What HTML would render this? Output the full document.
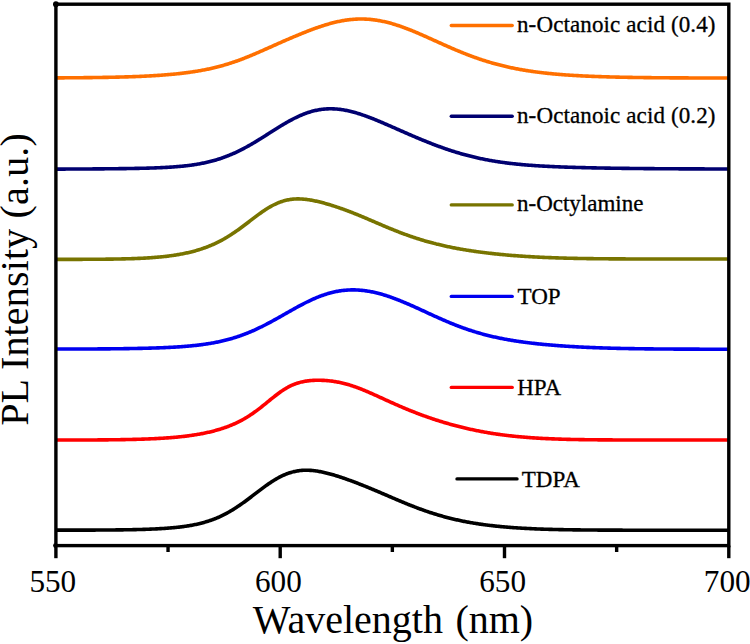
<!DOCTYPE html>
<html><head><meta charset="utf-8"><style>
html,body{margin:0;padding:0;background:#fff;width:750px;height:644px;overflow:hidden}
svg{display:block}
text{font-family:"Liberation Serif",serif;fill:#000}
.lg{font-size:23px;stroke:#000;stroke-width:0.3px}
.tk{font-size:31.2px}
.ax{font-size:40px}
</style></head><body>
<svg width="750" height="644" viewBox="0 0 750 644">
<path d="M56,77.87 L57,77.86 L58,77.86 L59,77.85 L60,77.85 L61,77.84 L62,77.84 L63,77.83 L64,77.83 L65,77.82 L66,77.81 L67,77.81 L68,77.80 L69,77.79 L70,77.79 L71,77.78 L72,77.77 L73,77.76 L74,77.76 L75,77.75 L76,77.74 L77,77.73 L78,77.72 L79,77.71 L80,77.71 L81,77.70 L82,77.69 L83,77.68 L84,77.67 L85,77.66 L86,77.65 L87,77.63 L88,77.62 L89,77.61 L90,77.60 L91,77.59 L92,77.58 L93,77.56 L94,77.55 L95,77.54 L96,77.52 L97,77.51 L98,77.49 L99,77.48 L100,77.46 L101,77.45 L102,77.43 L103,77.41 L104,77.40 L105,77.38 L106,77.36 L107,77.34 L108,77.33 L109,77.31 L110,77.29 L111,77.27 L112,77.24 L113,77.22 L114,77.20 L115,77.18 L116,77.16 L117,77.13 L118,77.11 L119,77.08 L120,77.06 L121,77.03 L122,77.00 L123,76.98 L124,76.95 L125,76.92 L126,76.89 L127,76.86 L128,76.83 L129,76.80 L130,76.76 L131,76.73 L132,76.69 L133,76.66 L134,76.62 L135,76.59 L136,76.55 L137,76.51 L138,76.47 L139,76.43 L140,76.38 L141,76.34 L142,76.30 L143,76.25 L144,76.20 L145,76.16 L146,76.11 L147,76.06 L148,76.01 L149,75.95 L150,75.90 L151,75.84 L152,75.79 L153,75.73 L154,75.67 L155,75.61 L156,75.55 L157,75.48 L158,75.42 L159,75.35 L160,75.28 L161,75.21 L162,75.14 L163,75.06 L164,74.99 L165,74.91 L166,74.83 L167,74.75 L168,74.66 L169,74.58 L170,74.49 L171,74.40 L172,74.31 L173,74.21 L174,74.12 L175,74.02 L176,73.92 L177,73.82 L178,73.71 L179,73.60 L180,73.49 L181,73.38 L182,73.26 L183,73.14 L184,73.02 L185,72.90 L186,72.77 L187,72.64 L188,72.51 L189,72.37 L190,72.23 L191,72.09 L192,71.94 L193,71.79 L194,71.64 L195,71.48 L196,71.32 L197,71.16 L198,70.99 L199,70.82 L200,70.65 L201,70.47 L202,70.29 L203,70.10 L204,69.91 L205,69.72 L206,69.52 L207,69.31 L208,69.11 L209,68.89 L210,68.68 L211,68.46 L212,68.23 L213,68.00 L214,67.76 L215,67.52 L216,67.28 L217,67.03 L218,66.77 L219,66.51 L220,66.25 L221,65.98 L222,65.70 L223,65.42 L224,65.13 L225,64.84 L226,64.54 L227,64.24 L228,63.93 L229,63.62 L230,63.30 L231,62.98 L232,62.65 L233,62.32 L234,61.98 L235,61.63 L236,61.28 L237,60.93 L238,60.57 L239,60.21 L240,59.84 L241,59.47 L242,59.09 L243,58.71 L244,58.32 L245,57.93 L246,57.53 L247,57.13 L248,56.73 L249,56.33 L250,55.92 L251,55.50 L252,55.09 L253,54.67 L254,54.24 L255,53.82 L256,53.39 L257,52.96 L258,52.53 L259,52.09 L260,51.66 L261,51.22 L262,50.78 L263,50.34 L264,49.90 L265,49.45 L266,49.01 L267,48.56 L268,48.12 L269,47.67 L270,47.23 L271,46.78 L272,46.33 L273,45.89 L274,45.44 L275,45.00 L276,44.55 L277,44.11 L278,43.66 L279,43.22 L280,42.78 L281,42.33 L282,41.89 L283,41.45 L284,41.02 L285,40.58 L286,40.14 L287,39.71 L288,39.28 L289,38.84 L290,38.41 L291,37.99 L292,37.56 L293,37.14 L294,36.71 L295,36.29 L296,35.87 L297,35.46 L298,35.04 L299,34.63 L300,34.22 L301,33.81 L302,33.41 L303,33.01 L304,32.61 L305,32.21 L306,31.82 L307,31.42 L308,31.04 L309,30.65 L310,30.27 L311,29.89 L312,29.52 L313,29.15 L314,28.78 L315,28.42 L316,28.06 L317,27.71 L318,27.36 L319,27.02 L320,26.68 L321,26.34 L322,26.01 L323,25.69 L324,25.37 L325,25.06 L326,24.76 L327,24.45 L328,24.16 L329,23.87 L330,23.59 L331,23.32 L332,23.05 L333,22.79 L334,22.54 L335,22.30 L336,22.06 L337,21.83 L338,21.61 L339,21.40 L340,21.19 L341,20.99 L342,20.81 L343,20.63 L344,20.46 L345,20.30 L346,20.14 L347,20.00 L348,19.87 L349,19.74 L350,19.63 L351,19.52 L352,19.43 L353,19.34 L354,19.27 L355,19.20 L356,19.14 L357,19.10 L358,19.06 L359,19.03 L360,19.02 L361,19.01 L362,19.02 L363,19.03 L364,19.05 L365,19.09 L366,19.13 L367,19.19 L368,19.25 L369,19.33 L370,19.41 L371,19.50 L372,19.61 L373,19.72 L374,19.85 L375,19.98 L376,20.12 L377,20.28 L378,20.44 L379,20.61 L380,20.79 L381,20.98 L382,21.18 L383,21.39 L384,21.60 L385,21.83 L386,22.06 L387,22.31 L388,22.56 L389,22.82 L390,23.09 L391,23.36 L392,23.64 L393,23.94 L394,24.23 L395,24.54 L396,24.85 L397,25.17 L398,25.50 L399,25.83 L400,26.17 L401,26.52 L402,26.87 L403,27.23 L404,27.59 L405,27.96 L406,28.34 L407,28.72 L408,29.10 L409,29.50 L410,29.89 L411,30.29 L412,30.69 L413,31.10 L414,31.51 L415,31.93 L416,32.35 L417,32.77 L418,33.20 L419,33.63 L420,34.06 L421,34.49 L422,34.93 L423,35.37 L424,35.81 L425,36.25 L426,36.70 L427,37.14 L428,37.59 L429,38.04 L430,38.49 L431,38.94 L432,39.39 L433,39.84 L434,40.30 L435,40.75 L436,41.20 L437,41.65 L438,42.11 L439,42.56 L440,43.01 L441,43.46 L442,43.91 L443,44.36 L444,44.80 L445,45.25 L446,45.69 L447,46.13 L448,46.57 L449,47.01 L450,47.45 L451,47.89 L452,48.32 L453,48.75 L454,49.18 L455,49.60 L456,50.03 L457,50.45 L458,50.86 L459,51.28 L460,51.69 L461,52.10 L462,52.50 L463,52.90 L464,53.30 L465,53.70 L466,54.09 L467,54.48 L468,54.86 L469,55.25 L470,55.62 L471,56.00 L472,56.37 L473,56.73 L474,57.10 L475,57.45 L476,57.81 L477,58.16 L478,58.51 L479,58.85 L480,59.19 L481,59.52 L482,59.85 L483,60.18 L484,60.50 L485,60.82 L486,61.13 L487,61.44 L488,61.75 L489,62.05 L490,62.35 L491,62.64 L492,62.93 L493,63.22 L494,63.50 L495,63.78 L496,64.05 L497,64.32 L498,64.58 L499,64.84 L500,65.10 L501,65.35 L502,65.60 L503,65.85 L504,66.09 L505,66.32 L506,66.56 L507,66.79 L508,67.01 L509,67.23 L510,67.45 L511,67.67 L512,67.88 L513,68.08 L514,68.29 L515,68.49 L516,68.68 L517,68.88 L518,69.07 L519,69.25 L520,69.43 L521,69.61 L522,69.79 L523,69.96 L524,70.13 L525,70.30 L526,70.46 L527,70.62 L528,70.78 L529,70.93 L530,71.09 L531,71.23 L532,71.38 L533,71.52 L534,71.66 L535,71.80 L536,71.93 L537,72.06 L538,72.19 L539,72.32 L540,72.44 L541,72.57 L542,72.69 L543,72.80 L544,72.92 L545,73.03 L546,73.14 L547,73.25 L548,73.35 L549,73.46 L550,73.56 L551,73.66 L552,73.75 L553,73.85 L554,73.94 L555,74.03 L556,74.12 L557,74.21 L558,74.29 L559,74.38 L560,74.46 L561,74.54 L562,74.62 L563,74.70 L564,74.77 L565,74.84 L566,74.92 L567,74.99 L568,75.06 L569,75.12 L570,75.19 L571,75.25 L572,75.32 L573,75.38 L574,75.44 L575,75.50 L576,75.56 L577,75.62 L578,75.67 L579,75.73 L580,75.78 L581,75.83 L582,75.88 L583,75.93 L584,75.98 L585,76.03 L586,76.08 L587,76.12 L588,76.17 L589,76.21 L590,76.25 L591,76.29 L592,76.34 L593,76.38 L594,76.42 L595,76.45 L596,76.49 L597,76.53 L598,76.56 L599,76.60 L600,76.63 L601,76.67 L602,76.70 L603,76.73 L604,76.76 L605,76.79 L606,76.82 L607,76.85 L608,76.88 L609,76.91 L610,76.94 L611,76.97 L612,76.99 L613,77.02 L614,77.04 L615,77.07 L616,77.09 L617,77.12 L618,77.14 L619,77.16 L620,77.18 L621,77.20 L622,77.23 L623,77.25 L624,77.27 L625,77.29 L626,77.31 L627,77.32 L628,77.34 L629,77.36 L630,77.38 L631,77.39 L632,77.41 L633,77.43 L634,77.44 L635,77.46 L636,77.47 L637,77.49 L638,77.50 L639,77.52 L640,77.53 L641,77.55 L642,77.56 L643,77.57 L644,77.59 L645,77.60 L646,77.61 L647,77.62 L648,77.63 L649,77.64 L650,77.66 L651,77.67 L652,77.68 L653,77.69 L654,77.70 L655,77.71 L656,77.72 L657,77.73 L658,77.73 L659,77.74 L660,77.75 L661,77.76 L662,77.77 L663,77.78 L664,77.78 L665,77.79 L666,77.80 L667,77.81 L668,77.81 L669,77.82 L670,77.83 L671,77.83 L672,77.84 L673,77.85 L674,77.85 L675,77.86 L676,77.86 L677,77.87 L678,77.88 L679,77.88 L680,77.89 L681,77.89 L682,77.90 L683,77.90 L684,77.91 L685,77.91 L686,77.91 L687,77.92 L688,77.92 L689,77.93 L690,77.93 L691,77.93 L692,77.94 L693,77.94 L694,77.95 L695,77.95 L696,77.95 L697,77.96 L698,77.96 L699,77.96 L700,77.97 L701,77.97 L702,77.97 L703,77.97 L704,77.98 L705,77.98 L706,77.98 L707,77.98 L708,77.99 L709,77.99 L710,77.99 L711,77.99 L712,78.00 L713,78.00 L714,78.00 L715,78.00 L716,78.00 L717,78.01 L718,78.01 L719,78.01 L720,78.01 L721,78.01 L722,78.01 L723,78.02 L724,78.02 L725,78.02 L726,78.02 L727,78.02 L728,78.02 L729,78.02" fill="none" stroke="#FF7000" stroke-width="3.6" stroke-linejoin="round"/>
<path d="M56,169.11 L57,169.11 L58,169.11 L59,169.10 L60,169.10 L61,169.09 L62,169.09 L63,169.09 L64,169.08 L65,169.08 L66,169.07 L67,169.07 L68,169.06 L69,169.06 L70,169.05 L71,169.05 L72,169.05 L73,169.04 L74,169.04 L75,169.03 L76,169.02 L77,169.02 L78,169.01 L79,169.01 L80,169.00 L81,169.00 L82,168.99 L83,168.99 L84,168.98 L85,168.97 L86,168.97 L87,168.96 L88,168.95 L89,168.95 L90,168.94 L91,168.93 L92,168.93 L93,168.92 L94,168.91 L95,168.90 L96,168.90 L97,168.89 L98,168.88 L99,168.87 L100,168.86 L101,168.86 L102,168.85 L103,168.84 L104,168.83 L105,168.82 L106,168.81 L107,168.80 L108,168.79 L109,168.78 L110,168.77 L111,168.76 L112,168.75 L113,168.74 L114,168.73 L115,168.72 L116,168.71 L117,168.70 L118,168.68 L119,168.67 L120,168.66 L121,168.65 L122,168.63 L123,168.62 L124,168.60 L125,168.59 L126,168.58 L127,168.56 L128,168.54 L129,168.53 L130,168.51 L131,168.50 L132,168.48 L133,168.46 L134,168.44 L135,168.42 L136,168.40 L137,168.38 L138,168.36 L139,168.34 L140,168.32 L141,168.30 L142,168.28 L143,168.25 L144,168.23 L145,168.20 L146,168.18 L147,168.15 L148,168.12 L149,168.09 L150,168.06 L151,168.03 L152,168.00 L153,167.96 L154,167.93 L155,167.89 L156,167.86 L157,167.82 L158,167.78 L159,167.74 L160,167.69 L161,167.65 L162,167.60 L163,167.56 L164,167.51 L165,167.45 L166,167.40 L167,167.34 L168,167.29 L169,167.23 L170,167.17 L171,167.10 L172,167.03 L173,166.96 L174,166.89 L175,166.82 L176,166.74 L177,166.66 L178,166.58 L179,166.49 L180,166.40 L181,166.31 L182,166.21 L183,166.11 L184,166.00 L185,165.90 L186,165.78 L187,165.67 L188,165.55 L189,165.42 L190,165.29 L191,165.16 L192,165.02 L193,164.88 L194,164.73 L195,164.57 L196,164.42 L197,164.25 L198,164.08 L199,163.91 L200,163.72 L201,163.54 L202,163.34 L203,163.14 L204,162.94 L205,162.72 L206,162.51 L207,162.28 L208,162.05 L209,161.81 L210,161.56 L211,161.30 L212,161.04 L213,160.77 L214,160.50 L215,160.21 L216,159.92 L217,159.62 L218,159.31 L219,158.99 L220,158.67 L221,158.33 L222,157.99 L223,157.64 L224,157.28 L225,156.92 L226,156.54 L227,156.16 L228,155.76 L229,155.36 L230,154.95 L231,154.53 L232,154.11 L233,153.67 L234,153.23 L235,152.77 L236,152.31 L237,151.84 L238,151.37 L239,150.88 L240,150.38 L241,149.88 L242,149.37 L243,148.85 L244,148.33 L245,147.79 L246,147.25 L247,146.71 L248,146.15 L249,145.59 L250,145.02 L251,144.45 L252,143.87 L253,143.28 L254,142.69 L255,142.09 L256,141.49 L257,140.88 L258,140.27 L259,139.66 L260,139.04 L261,138.41 L262,137.79 L263,137.16 L264,136.53 L265,135.90 L266,135.26 L267,134.63 L268,133.99 L269,133.35 L270,132.72 L271,132.08 L272,131.44 L273,130.81 L274,130.17 L275,129.54 L276,128.91 L277,128.29 L278,127.67 L279,127.05 L280,126.43 L281,125.82 L282,125.22 L283,124.62 L284,124.03 L285,123.44 L286,122.86 L287,122.29 L288,121.72 L289,121.17 L290,120.62 L291,120.08 L292,119.55 L293,119.02 L294,118.51 L295,118.01 L296,117.52 L297,117.04 L298,116.57 L299,116.12 L300,115.67 L301,115.24 L302,114.82 L303,114.41 L304,114.02 L305,113.64 L306,113.27 L307,112.91 L308,112.57 L309,112.25 L310,111.94 L311,111.64 L312,111.35 L313,111.09 L314,110.83 L315,110.59 L316,110.37 L317,110.16 L318,109.97 L319,109.79 L320,109.62 L321,109.47 L322,109.34 L323,109.22 L324,109.12 L325,109.03 L326,108.95 L327,108.89 L328,108.85 L329,108.82 L330,108.80 L331,108.80 L332,108.81 L333,108.84 L334,108.88 L335,108.93 L336,109.00 L337,109.08 L338,109.17 L339,109.28 L340,109.40 L341,109.53 L342,109.68 L343,109.83 L344,110.00 L345,110.18 L346,110.37 L347,110.57 L348,110.78 L349,111.01 L350,111.24 L351,111.48 L352,111.74 L353,112.00 L354,112.27 L355,112.55 L356,112.84 L357,113.13 L358,113.44 L359,113.75 L360,114.07 L361,114.40 L362,114.73 L363,115.08 L364,115.42 L365,115.78 L366,116.14 L367,116.50 L368,116.87 L369,117.25 L370,117.63 L371,118.02 L372,118.41 L373,118.80 L374,119.20 L375,119.60 L376,120.01 L377,120.42 L378,120.83 L379,121.25 L380,121.67 L381,122.09 L382,122.51 L383,122.94 L384,123.36 L385,123.79 L386,124.23 L387,124.66 L388,125.09 L389,125.53 L390,125.97 L391,126.40 L392,126.84 L393,127.28 L394,127.72 L395,128.16 L396,128.60 L397,129.04 L398,129.49 L399,129.93 L400,130.37 L401,130.81 L402,131.25 L403,131.69 L404,132.13 L405,132.56 L406,133.00 L407,133.44 L408,133.87 L409,134.31 L410,134.74 L411,135.17 L412,135.60 L413,136.03 L414,136.46 L415,136.89 L416,137.31 L417,137.73 L418,138.15 L419,138.57 L420,138.99 L421,139.40 L422,139.82 L423,140.23 L424,140.63 L425,141.04 L426,141.44 L427,141.85 L428,142.24 L429,142.64 L430,143.03 L431,143.42 L432,143.81 L433,144.20 L434,144.58 L435,144.96 L436,145.34 L437,145.71 L438,146.08 L439,146.45 L440,146.81 L441,147.17 L442,147.53 L443,147.88 L444,148.23 L445,148.58 L446,148.93 L447,149.27 L448,149.60 L449,149.94 L450,150.27 L451,150.60 L452,150.92 L453,151.24 L454,151.55 L455,151.87 L456,152.17 L457,152.48 L458,152.78 L459,153.08 L460,153.37 L461,153.66 L462,153.94 L463,154.23 L464,154.50 L465,154.78 L466,155.05 L467,155.31 L468,155.58 L469,155.84 L470,156.09 L471,156.34 L472,156.59 L473,156.83 L474,157.07 L475,157.31 L476,157.54 L477,157.77 L478,157.99 L479,158.21 L480,158.43 L481,158.64 L482,158.85 L483,159.06 L484,159.26 L485,159.46 L486,159.65 L487,159.84 L488,160.03 L489,160.22 L490,160.40 L491,160.57 L492,160.75 L493,160.92 L494,161.09 L495,161.25 L496,161.41 L497,161.57 L498,161.72 L499,161.87 L500,162.02 L501,162.17 L502,162.31 L503,162.45 L504,162.58 L505,162.72 L506,162.85 L507,162.98 L508,163.10 L509,163.22 L510,163.34 L511,163.46 L512,163.58 L513,163.69 L514,163.80 L515,163.90 L516,164.01 L517,164.11 L518,164.21 L519,164.31 L520,164.41 L521,164.50 L522,164.59 L523,164.68 L524,164.77 L525,164.85 L526,164.94 L527,165.02 L528,165.10 L529,165.18 L530,165.25 L531,165.33 L532,165.40 L533,165.47 L534,165.54 L535,165.61 L536,165.68 L537,165.74 L538,165.80 L539,165.87 L540,165.93 L541,165.99 L542,166.04 L543,166.10 L544,166.16 L545,166.21 L546,166.26 L547,166.32 L548,166.37 L549,166.42 L550,166.46 L551,166.51 L552,166.56 L553,166.60 L554,166.65 L555,166.69 L556,166.74 L557,166.78 L558,166.82 L559,166.86 L560,166.90 L561,166.94 L562,166.97 L563,167.01 L564,167.05 L565,167.08 L566,167.12 L567,167.15 L568,167.18 L569,167.22 L570,167.25 L571,167.28 L572,167.31 L573,167.34 L574,167.37 L575,167.40 L576,167.43 L577,167.46 L578,167.49 L579,167.51 L580,167.54 L581,167.57 L582,167.59 L583,167.62 L584,167.64 L585,167.67 L586,167.69 L587,167.71 L588,167.74 L589,167.76 L590,167.78 L591,167.80 L592,167.83 L593,167.85 L594,167.87 L595,167.89 L596,167.91 L597,167.93 L598,167.95 L599,167.97 L600,167.99 L601,168.00 L602,168.02 L603,168.04 L604,168.06 L605,168.08 L606,168.09 L607,168.11 L608,168.13 L609,168.14 L610,168.16 L611,168.18 L612,168.19 L613,168.21 L614,168.22 L615,168.24 L616,168.25 L617,168.27 L618,168.28 L619,168.29 L620,168.31 L621,168.32 L622,168.34 L623,168.35 L624,168.36 L625,168.37 L626,168.39 L627,168.40 L628,168.41 L629,168.42 L630,168.44 L631,168.45 L632,168.46 L633,168.47 L634,168.48 L635,168.49 L636,168.50 L637,168.51 L638,168.52 L639,168.53 L640,168.54 L641,168.55 L642,168.56 L643,168.57 L644,168.58 L645,168.59 L646,168.60 L647,168.61 L648,168.62 L649,168.63 L650,168.64 L651,168.64 L652,168.65 L653,168.66 L654,168.67 L655,168.68 L656,168.68 L657,168.69 L658,168.70 L659,168.71 L660,168.71 L661,168.72 L662,168.73 L663,168.73 L664,168.74 L665,168.75 L666,168.75 L667,168.76 L668,168.77 L669,168.77 L670,168.78 L671,168.78 L672,168.79 L673,168.79 L674,168.80 L675,168.81 L676,168.81 L677,168.82 L678,168.82 L679,168.83 L680,168.83 L681,168.84 L682,168.84 L683,168.85 L684,168.85 L685,168.85 L686,168.86 L687,168.86 L688,168.87 L689,168.87 L690,168.88 L691,168.88 L692,168.88 L693,168.89 L694,168.89 L695,168.89 L696,168.90 L697,168.90 L698,168.90 L699,168.91 L700,168.91 L701,168.91 L702,168.92 L703,168.92 L704,168.92 L705,168.93 L706,168.93 L707,168.93 L708,168.93 L709,168.94 L710,168.94 L711,168.94 L712,168.94 L713,168.95 L714,168.95 L715,168.95 L716,168.95 L717,168.96 L718,168.96 L719,168.96 L720,168.96 L721,168.96 L722,168.97 L723,168.97 L724,168.97 L725,168.97 L726,168.97 L727,168.98 L728,168.98 L729,168.98" fill="none" stroke="#000070" stroke-width="3.6" stroke-linejoin="round"/>
<path d="M56,259.39 L57,259.39 L58,259.39 L59,259.38 L60,259.38 L61,259.38 L62,259.38 L63,259.38 L64,259.38 L65,259.37 L66,259.37 L67,259.37 L68,259.37 L69,259.37 L70,259.36 L71,259.36 L72,259.36 L73,259.36 L74,259.35 L75,259.35 L76,259.35 L77,259.35 L78,259.34 L79,259.34 L80,259.34 L81,259.33 L82,259.33 L83,259.32 L84,259.32 L85,259.32 L86,259.31 L87,259.31 L88,259.30 L89,259.30 L90,259.29 L91,259.29 L92,259.28 L93,259.28 L94,259.27 L95,259.26 L96,259.26 L97,259.25 L98,259.24 L99,259.23 L100,259.23 L101,259.22 L102,259.21 L103,259.20 L104,259.19 L105,259.18 L106,259.17 L107,259.16 L108,259.15 L109,259.13 L110,259.12 L111,259.11 L112,259.09 L113,259.08 L114,259.06 L115,259.05 L116,259.03 L117,259.02 L118,259.00 L119,258.98 L120,258.96 L121,258.94 L122,258.92 L123,258.89 L124,258.87 L125,258.85 L126,258.82 L127,258.79 L128,258.77 L129,258.74 L130,258.71 L131,258.68 L132,258.64 L133,258.61 L134,258.58 L135,258.54 L136,258.50 L137,258.46 L138,258.42 L139,258.38 L140,258.33 L141,258.28 L142,258.24 L143,258.19 L144,258.13 L145,258.08 L146,258.02 L147,257.96 L148,257.90 L149,257.84 L150,257.77 L151,257.71 L152,257.64 L153,257.56 L154,257.49 L155,257.41 L156,257.33 L157,257.24 L158,257.16 L159,257.06 L160,256.97 L161,256.87 L162,256.77 L163,256.67 L164,256.56 L165,256.45 L166,256.34 L167,256.22 L168,256.10 L169,255.97 L170,255.84 L171,255.71 L172,255.57 L173,255.42 L174,255.28 L175,255.12 L176,254.97 L177,254.80 L178,254.64 L179,254.46 L180,254.29 L181,254.10 L182,253.91 L183,253.72 L184,253.52 L185,253.31 L186,253.10 L187,252.88 L188,252.66 L189,252.43 L190,252.19 L191,251.95 L192,251.69 L193,251.44 L194,251.17 L195,250.90 L196,250.62 L197,250.33 L198,250.03 L199,249.73 L200,249.41 L201,249.09 L202,248.76 L203,248.42 L204,248.07 L205,247.72 L206,247.35 L207,246.97 L208,246.59 L209,246.19 L210,245.78 L211,245.37 L212,244.94 L213,244.50 L214,244.05 L215,243.59 L216,243.12 L217,242.64 L218,242.15 L219,241.64 L220,241.13 L221,240.60 L222,240.06 L223,239.51 L224,238.95 L225,238.37 L226,237.79 L227,237.19 L228,236.58 L229,235.96 L230,235.33 L231,234.69 L232,234.04 L233,233.37 L234,232.70 L235,232.02 L236,231.33 L237,230.62 L238,229.91 L239,229.20 L240,228.47 L241,227.74 L242,227.00 L243,226.25 L244,225.50 L245,224.75 L246,223.99 L247,223.23 L248,222.46 L249,221.70 L250,220.93 L251,220.17 L252,219.40 L253,218.64 L254,217.88 L255,217.12 L256,216.37 L257,215.63 L258,214.89 L259,214.16 L260,213.44 L261,212.73 L262,212.03 L263,211.34 L264,210.66 L265,210.00 L266,209.35 L267,208.71 L268,208.09 L269,207.49 L270,206.91 L271,206.34 L272,205.79 L273,205.26 L274,204.75 L275,204.27 L276,203.80 L277,203.35 L278,202.92 L279,202.52 L280,202.14 L281,201.78 L282,201.44 L283,201.12 L284,200.83 L285,200.55 L286,200.30 L287,200.07 L288,199.87 L289,199.68 L290,199.52 L291,199.37 L292,199.25 L293,199.15 L294,199.06 L295,199.00 L296,198.95 L297,198.92 L298,198.91 L299,198.92 L300,198.94 L301,198.98 L302,199.04 L303,199.11 L304,199.19 L305,199.29 L306,199.40 L307,199.52 L308,199.66 L309,199.81 L310,199.97 L311,200.13 L312,200.31 L313,200.50 L314,200.70 L315,200.91 L316,201.12 L317,201.34 L318,201.57 L319,201.81 L320,202.06 L321,202.31 L322,202.57 L323,202.83 L324,203.10 L325,203.38 L326,203.66 L327,203.94 L328,204.24 L329,204.53 L330,204.84 L331,205.14 L332,205.45 L333,205.77 L334,206.09 L335,206.41 L336,206.74 L337,207.08 L338,207.41 L339,207.76 L340,208.10 L341,208.45 L342,208.80 L343,209.16 L344,209.52 L345,209.89 L346,210.26 L347,210.63 L348,211.01 L349,211.39 L350,211.77 L351,212.16 L352,212.55 L353,212.94 L354,213.34 L355,213.73 L356,214.14 L357,214.54 L358,214.95 L359,215.36 L360,215.77 L361,216.18 L362,216.60 L363,217.02 L364,217.44 L365,217.86 L366,218.28 L367,218.71 L368,219.13 L369,219.56 L370,219.99 L371,220.42 L372,220.84 L373,221.27 L374,221.70 L375,222.13 L376,222.56 L377,222.99 L378,223.42 L379,223.85 L380,224.27 L381,224.70 L382,225.13 L383,225.55 L384,225.97 L385,226.39 L386,226.81 L387,227.23 L388,227.65 L389,228.06 L390,228.47 L391,228.88 L392,229.29 L393,229.69 L394,230.09 L395,230.49 L396,230.89 L397,231.28 L398,231.68 L399,232.06 L400,232.45 L401,232.83 L402,233.21 L403,233.58 L404,233.95 L405,234.32 L406,234.68 L407,235.05 L408,235.40 L409,235.76 L410,236.11 L411,236.45 L412,236.79 L413,237.13 L414,237.47 L415,237.80 L416,238.13 L417,238.45 L418,238.77 L419,239.08 L420,239.40 L421,239.70 L422,240.01 L423,240.31 L424,240.61 L425,240.90 L426,241.19 L427,241.47 L428,241.76 L429,242.03 L430,242.31 L431,242.58 L432,242.85 L433,243.11 L434,243.37 L435,243.62 L436,243.88 L437,244.13 L438,244.37 L439,244.61 L440,244.85 L441,245.09 L442,245.32 L443,245.55 L444,245.78 L445,246.00 L446,246.22 L447,246.43 L448,246.65 L449,246.86 L450,247.07 L451,247.27 L452,247.47 L453,247.67 L454,247.86 L455,248.06 L456,248.25 L457,248.43 L458,248.62 L459,248.80 L460,248.98 L461,249.16 L462,249.33 L463,249.50 L464,249.67 L465,249.84 L466,250.00 L467,250.16 L468,250.32 L469,250.48 L470,250.64 L471,250.79 L472,250.94 L473,251.09 L474,251.23 L475,251.38 L476,251.52 L477,251.66 L478,251.80 L479,251.93 L480,252.07 L481,252.20 L482,252.33 L483,252.46 L484,252.58 L485,252.71 L486,252.83 L487,252.95 L488,253.07 L489,253.18 L490,253.30 L491,253.41 L492,253.53 L493,253.64 L494,253.74 L495,253.85 L496,253.96 L497,254.06 L498,254.16 L499,254.26 L500,254.36 L501,254.46 L502,254.55 L503,254.65 L504,254.74 L505,254.83 L506,254.92 L507,255.01 L508,255.09 L509,255.18 L510,255.26 L511,255.35 L512,255.43 L513,255.51 L514,255.59 L515,255.66 L516,255.74 L517,255.81 L518,255.89 L519,255.96 L520,256.03 L521,256.10 L522,256.17 L523,256.23 L524,256.30 L525,256.37 L526,256.43 L527,256.49 L528,256.55 L529,256.61 L530,256.67 L531,256.73 L532,256.79 L533,256.84 L534,256.90 L535,256.95 L536,257.00 L537,257.05 L538,257.10 L539,257.15 L540,257.20 L541,257.25 L542,257.30 L543,257.34 L544,257.39 L545,257.43 L546,257.47 L547,257.51 L548,257.55 L549,257.59 L550,257.63 L551,257.67 L552,257.71 L553,257.75 L554,257.78 L555,257.82 L556,257.85 L557,257.88 L558,257.92 L559,257.95 L560,257.98 L561,258.01 L562,258.04 L563,258.07 L564,258.10 L565,258.13 L566,258.15 L567,258.18 L568,258.21 L569,258.23 L570,258.25 L571,258.28 L572,258.30 L573,258.32 L574,258.35 L575,258.37 L576,258.39 L577,258.41 L578,258.43 L579,258.45 L580,258.47 L581,258.48 L582,258.50 L583,258.52 L584,258.54 L585,258.55 L586,258.57 L587,258.58 L588,258.60 L589,258.61 L590,258.63 L591,258.64 L592,258.66 L593,258.67 L594,258.68 L595,258.69 L596,258.70 L597,258.72 L598,258.73 L599,258.74 L600,258.75 L601,258.76 L602,258.77 L603,258.78 L604,258.79 L605,258.80 L606,258.80 L607,258.81 L608,258.82 L609,258.83 L610,258.84 L611,258.84 L612,258.85 L613,258.86 L614,258.86 L615,258.87 L616,258.88 L617,258.88 L618,258.89 L619,258.89 L620,258.90 L621,258.90 L622,258.91 L623,258.91 L624,258.92 L625,258.92 L626,258.93 L627,258.93 L628,258.94 L629,258.94 L630,258.94 L631,258.95 L632,258.95 L633,258.95 L634,258.96 L635,258.96 L636,258.96 L637,258.96 L638,258.97 L639,258.97 L640,258.97 L641,258.97 L642,258.98 L643,258.98 L644,258.98 L645,258.98 L646,258.98 L647,258.99 L648,258.99 L649,258.99 L650,258.99 L651,258.99 L652,258.99 L653,258.99 L654,258.99 L655,259.00 L656,259.00 L657,259.00 L658,259.00 L659,259.00 L660,259.00 L661,259.00 L662,259.00 L663,259.00 L664,259.00 L665,259.00 L666,259.00 L667,259.00 L668,259.00 L669,259.01 L670,259.01 L671,259.01 L672,259.01 L673,259.01 L674,259.01 L675,259.01 L676,259.01 L677,259.01 L678,259.01 L679,259.01 L680,259.01 L681,259.01 L682,259.01 L683,259.01 L684,259.01 L685,259.01 L686,259.01 L687,259.01 L688,259.01 L689,259.01 L690,259.01 L691,259.01 L692,259.01 L693,259.00 L694,259.00 L695,259.00 L696,259.00 L697,259.00 L698,259.00 L699,259.00 L700,259.00 L701,259.00 L702,259.00 L703,259.00 L704,259.00 L705,259.00 L706,259.00 L707,259.00 L708,259.00 L709,259.00 L710,259.00 L711,259.00 L712,259.00 L713,259.00 L714,259.00 L715,259.00 L716,259.00 L717,259.00 L718,258.99 L719,258.99 L720,258.99 L721,258.99 L722,258.99 L723,258.99 L724,258.99 L725,258.99 L726,258.99 L727,258.99 L728,258.99 L729,258.99" fill="none" stroke="#787400" stroke-width="3.6" stroke-linejoin="round"/>
<path d="M56,349.07 L57,349.07 L58,349.07 L59,349.07 L60,349.07 L61,349.07 L62,349.06 L63,349.06 L64,349.06 L65,349.06 L66,349.05 L67,349.05 L68,349.05 L69,349.05 L70,349.04 L71,349.04 L72,349.04 L73,349.04 L74,349.03 L75,349.03 L76,349.03 L77,349.02 L78,349.02 L79,349.02 L80,349.01 L81,349.01 L82,349.00 L83,349.00 L84,349.00 L85,348.99 L86,348.99 L87,348.98 L88,348.98 L89,348.97 L90,348.97 L91,348.96 L92,348.96 L93,348.95 L94,348.95 L95,348.94 L96,348.93 L97,348.93 L98,348.92 L99,348.91 L100,348.91 L101,348.90 L102,348.89 L103,348.89 L104,348.88 L105,348.87 L106,348.86 L107,348.85 L108,348.84 L109,348.84 L110,348.83 L111,348.82 L112,348.81 L113,348.80 L114,348.79 L115,348.78 L116,348.76 L117,348.75 L118,348.74 L119,348.73 L120,348.72 L121,348.70 L122,348.69 L123,348.68 L124,348.66 L125,348.65 L126,348.64 L127,348.62 L128,348.60 L129,348.59 L130,348.57 L131,348.56 L132,348.54 L133,348.52 L134,348.50 L135,348.48 L136,348.46 L137,348.44 L138,348.42 L139,348.40 L140,348.38 L141,348.36 L142,348.34 L143,348.31 L144,348.29 L145,348.26 L146,348.24 L147,348.21 L148,348.19 L149,348.16 L150,348.13 L151,348.10 L152,348.07 L153,348.04 L154,348.01 L155,347.98 L156,347.94 L157,347.91 L158,347.87 L159,347.83 L160,347.80 L161,347.76 L162,347.72 L163,347.68 L164,347.63 L165,347.59 L166,347.55 L167,347.50 L168,347.45 L169,347.40 L170,347.35 L171,347.30 L172,347.25 L173,347.19 L174,347.14 L175,347.08 L176,347.02 L177,346.96 L178,346.89 L179,346.83 L180,346.76 L181,346.69 L182,346.62 L183,346.54 L184,346.47 L185,346.39 L186,346.31 L187,346.22 L188,346.14 L189,346.05 L190,345.96 L191,345.86 L192,345.77 L193,345.66 L194,345.56 L195,345.46 L196,345.35 L197,345.23 L198,345.12 L199,345.00 L200,344.87 L201,344.75 L202,344.62 L203,344.48 L204,344.34 L205,344.20 L206,344.06 L207,343.90 L208,343.75 L209,343.59 L210,343.42 L211,343.26 L212,343.08 L213,342.90 L214,342.72 L215,342.53 L216,342.34 L217,342.14 L218,341.93 L219,341.72 L220,341.51 L221,341.28 L222,341.06 L223,340.82 L224,340.58 L225,340.34 L226,340.09 L227,339.83 L228,339.56 L229,339.29 L230,339.02 L231,338.73 L232,338.44 L233,338.14 L234,337.84 L235,337.53 L236,337.21 L237,336.89 L238,336.56 L239,336.22 L240,335.87 L241,335.52 L242,335.16 L243,334.79 L244,334.42 L245,334.04 L246,333.65 L247,333.25 L248,332.85 L249,332.44 L250,332.02 L251,331.60 L252,331.17 L253,330.73 L254,330.29 L255,329.84 L256,329.38 L257,328.92 L258,328.45 L259,327.97 L260,327.49 L261,327.00 L262,326.51 L263,326.01 L264,325.50 L265,324.99 L266,324.48 L267,323.96 L268,323.43 L269,322.90 L270,322.36 L271,321.83 L272,321.28 L273,320.74 L274,320.19 L275,319.63 L276,319.08 L277,318.52 L278,317.96 L279,317.39 L280,316.83 L281,316.26 L282,315.69 L283,315.12 L284,314.55 L285,313.98 L286,313.41 L287,312.84 L288,312.27 L289,311.71 L290,311.14 L291,310.57 L292,310.01 L293,309.45 L294,308.89 L295,308.33 L296,307.78 L297,307.23 L298,306.69 L299,306.14 L300,305.61 L301,305.08 L302,304.55 L303,304.03 L304,303.51 L305,303.00 L306,302.50 L307,302.00 L308,301.51 L309,301.03 L310,300.55 L311,300.09 L312,299.63 L313,299.18 L314,298.74 L315,298.30 L316,297.88 L317,297.46 L318,297.06 L319,296.66 L320,296.28 L321,295.90 L322,295.53 L323,295.18 L324,294.84 L325,294.50 L326,294.18 L327,293.87 L328,293.57 L329,293.28 L330,293.00 L331,292.73 L332,292.48 L333,292.24 L334,292.01 L335,291.79 L336,291.58 L337,291.38 L338,291.20 L339,291.03 L340,290.87 L341,290.72 L342,290.59 L343,290.46 L344,290.35 L345,290.25 L346,290.17 L347,290.09 L348,290.03 L349,289.98 L350,289.94 L351,289.91 L352,289.89 L353,289.89 L354,289.90 L355,289.91 L356,289.94 L357,289.99 L358,290.04 L359,290.10 L360,290.18 L361,290.26 L362,290.36 L363,290.47 L364,290.58 L365,290.71 L366,290.85 L367,291.00 L368,291.16 L369,291.33 L370,291.50 L371,291.69 L372,291.89 L373,292.10 L374,292.31 L375,292.54 L376,292.77 L377,293.01 L378,293.27 L379,293.53 L380,293.79 L381,294.07 L382,294.35 L383,294.65 L384,294.95 L385,295.25 L386,295.57 L387,295.89 L388,296.22 L389,296.56 L390,296.90 L391,297.25 L392,297.60 L393,297.96 L394,298.33 L395,298.70 L396,299.08 L397,299.47 L398,299.86 L399,300.25 L400,300.65 L401,301.06 L402,301.46 L403,301.88 L404,302.30 L405,302.72 L406,303.14 L407,303.57 L408,304.00 L409,304.44 L410,304.88 L411,305.32 L412,305.76 L413,306.21 L414,306.66 L415,307.11 L416,307.56 L417,308.01 L418,308.47 L419,308.92 L420,309.38 L421,309.84 L422,310.30 L423,310.76 L424,311.22 L425,311.68 L426,312.15 L427,312.61 L428,313.07 L429,313.53 L430,313.99 L431,314.44 L432,314.90 L433,315.36 L434,315.81 L435,316.27 L436,316.72 L437,317.17 L438,317.62 L439,318.06 L440,318.51 L441,318.95 L442,319.39 L443,319.82 L444,320.26 L445,320.69 L446,321.12 L447,321.54 L448,321.96 L449,322.38 L450,322.80 L451,323.21 L452,323.61 L453,324.02 L454,324.42 L455,324.81 L456,325.21 L457,325.60 L458,325.98 L459,326.36 L460,326.74 L461,327.11 L462,327.47 L463,327.84 L464,328.20 L465,328.55 L466,328.90 L467,329.25 L468,329.59 L469,329.92 L470,330.25 L471,330.58 L472,330.90 L473,331.22 L474,331.54 L475,331.85 L476,332.15 L477,332.45 L478,332.75 L479,333.04 L480,333.32 L481,333.61 L482,333.88 L483,334.16 L484,334.43 L485,334.69 L486,334.95 L487,335.21 L488,335.46 L489,335.71 L490,335.95 L491,336.19 L492,336.43 L493,336.66 L494,336.89 L495,337.11 L496,337.33 L497,337.55 L498,337.76 L499,337.97 L500,338.18 L501,338.38 L502,338.58 L503,338.78 L504,338.97 L505,339.16 L506,339.34 L507,339.52 L508,339.70 L509,339.88 L510,340.05 L511,340.22 L512,340.39 L513,340.55 L514,340.71 L515,340.87 L516,341.02 L517,341.18 L518,341.33 L519,341.47 L520,341.62 L521,341.76 L522,341.90 L523,342.04 L524,342.17 L525,342.30 L526,342.44 L527,342.56 L528,342.69 L529,342.81 L530,342.94 L531,343.05 L532,343.17 L533,343.29 L534,343.40 L535,343.51 L536,343.62 L537,343.73 L538,343.84 L539,343.94 L540,344.04 L541,344.15 L542,344.24 L543,344.34 L544,344.44 L545,344.53 L546,344.63 L547,344.72 L548,344.81 L549,344.89 L550,344.98 L551,345.07 L552,345.15 L553,345.23 L554,345.31 L555,345.39 L556,345.47 L557,345.55 L558,345.62 L559,345.70 L560,345.77 L561,345.84 L562,345.91 L563,345.98 L564,346.05 L565,346.12 L566,346.19 L567,346.25 L568,346.31 L569,346.38 L570,346.44 L571,346.50 L572,346.56 L573,346.62 L574,346.67 L575,346.73 L576,346.78 L577,346.84 L578,346.89 L579,346.94 L580,347.00 L581,347.05 L582,347.10 L583,347.14 L584,347.19 L585,347.24 L586,347.28 L587,347.33 L588,347.37 L589,347.42 L590,347.46 L591,347.50 L592,347.54 L593,347.58 L594,347.62 L595,347.66 L596,347.70 L597,347.74 L598,347.77 L599,347.81 L600,347.84 L601,347.88 L602,347.91 L603,347.94 L604,347.98 L605,348.01 L606,348.04 L607,348.07 L608,348.10 L609,348.13 L610,348.15 L611,348.18 L612,348.21 L613,348.24 L614,348.26 L615,348.29 L616,348.31 L617,348.34 L618,348.36 L619,348.38 L620,348.41 L621,348.43 L622,348.45 L623,348.47 L624,348.49 L625,348.51 L626,348.53 L627,348.55 L628,348.57 L629,348.59 L630,348.61 L631,348.62 L632,348.64 L633,348.66 L634,348.67 L635,348.69 L636,348.71 L637,348.72 L638,348.74 L639,348.75 L640,348.76 L641,348.78 L642,348.79 L643,348.80 L644,348.82 L645,348.83 L646,348.84 L647,348.85 L648,348.86 L649,348.88 L650,348.89 L651,348.90 L652,348.91 L653,348.92 L654,348.93 L655,348.94 L656,348.95 L657,348.95 L658,348.96 L659,348.97 L660,348.98 L661,348.99 L662,349.00 L663,349.00 L664,349.01 L665,349.02 L666,349.03 L667,349.03 L668,349.04 L669,349.05 L670,349.05 L671,349.06 L672,349.06 L673,349.07 L674,349.08 L675,349.08 L676,349.09 L677,349.09 L678,349.10 L679,349.10 L680,349.11 L681,349.11 L682,349.12 L683,349.12 L684,349.12 L685,349.13 L686,349.13 L687,349.14 L688,349.14 L689,349.14 L690,349.15 L691,349.15 L692,349.15 L693,349.16 L694,349.16 L695,349.16 L696,349.17 L697,349.17 L698,349.17 L699,349.17 L700,349.18 L701,349.18 L702,349.18 L703,349.18 L704,349.19 L705,349.19 L706,349.19 L707,349.19 L708,349.19 L709,349.20 L710,349.20 L711,349.20 L712,349.20 L713,349.20 L714,349.21 L715,349.21 L716,349.21 L717,349.21 L718,349.21 L719,349.21 L720,349.22 L721,349.22 L722,349.22 L723,349.22 L724,349.22 L725,349.22 L726,349.22 L727,349.22 L728,349.22 L729,349.23" fill="none" stroke="#0000F0" stroke-width="3.6" stroke-linejoin="round"/>
<path d="M56,440.07 L57,440.06 L58,440.06 L59,440.06 L60,440.06 L61,440.06 L62,440.06 L63,440.06 L64,440.05 L65,440.05 L66,440.05 L67,440.05 L68,440.05 L69,440.04 L70,440.04 L71,440.04 L72,440.04 L73,440.03 L74,440.03 L75,440.03 L76,440.03 L77,440.02 L78,440.02 L79,440.02 L80,440.01 L81,440.01 L82,440.01 L83,440.00 L84,440.00 L85,439.99 L86,439.99 L87,439.98 L88,439.98 L89,439.97 L90,439.97 L91,439.96 L92,439.96 L93,439.95 L94,439.95 L95,439.94 L96,439.93 L97,439.93 L98,439.92 L99,439.91 L100,439.91 L101,439.90 L102,439.89 L103,439.88 L104,439.87 L105,439.86 L106,439.85 L107,439.84 L108,439.83 L109,439.82 L110,439.81 L111,439.80 L112,439.79 L113,439.78 L114,439.77 L115,439.75 L116,439.74 L117,439.72 L118,439.71 L119,439.70 L120,439.68 L121,439.66 L122,439.65 L123,439.63 L124,439.61 L125,439.59 L126,439.57 L127,439.55 L128,439.53 L129,439.51 L130,439.49 L131,439.47 L132,439.44 L133,439.42 L134,439.40 L135,439.37 L136,439.34 L137,439.32 L138,439.29 L139,439.26 L140,439.23 L141,439.20 L142,439.16 L143,439.13 L144,439.09 L145,439.06 L146,439.02 L147,438.98 L148,438.94 L149,438.90 L150,438.86 L151,438.82 L152,438.77 L153,438.73 L154,438.68 L155,438.63 L156,438.58 L157,438.53 L158,438.48 L159,438.42 L160,438.36 L161,438.31 L162,438.25 L163,438.18 L164,438.12 L165,438.05 L166,437.99 L167,437.92 L168,437.84 L169,437.77 L170,437.69 L171,437.61 L172,437.53 L173,437.45 L174,437.36 L175,437.27 L176,437.18 L177,437.09 L178,436.99 L179,436.89 L180,436.79 L181,436.68 L182,436.57 L183,436.46 L184,436.35 L185,436.23 L186,436.11 L187,435.98 L188,435.85 L189,435.72 L190,435.58 L191,435.44 L192,435.30 L193,435.15 L194,435.00 L195,434.84 L196,434.68 L197,434.52 L198,434.34 L199,434.17 L200,433.99 L201,433.81 L202,433.62 L203,433.42 L204,433.22 L205,433.02 L206,432.80 L207,432.59 L208,432.36 L209,432.14 L210,431.90 L211,431.66 L212,431.41 L213,431.16 L214,430.90 L215,430.63 L216,430.36 L217,430.08 L218,429.79 L219,429.49 L220,429.19 L221,428.87 L222,428.55 L223,428.23 L224,427.89 L225,427.54 L226,427.19 L227,426.82 L228,426.45 L229,426.07 L230,425.67 L231,425.27 L232,424.85 L233,424.43 L234,423.99 L235,423.54 L236,423.08 L237,422.61 L238,422.13 L239,421.63 L240,421.12 L241,420.60 L242,420.06 L243,419.51 L244,418.95 L245,418.37 L246,417.78 L247,417.18 L248,416.56 L249,415.93 L250,415.28 L251,414.62 L252,413.94 L253,413.25 L254,412.55 L255,411.83 L256,411.10 L257,410.36 L258,409.61 L259,408.85 L260,408.08 L261,407.29 L262,406.50 L263,405.70 L264,404.90 L265,404.09 L266,403.28 L267,402.46 L268,401.64 L269,400.83 L270,400.01 L271,399.20 L272,398.39 L273,397.59 L274,396.79 L275,396.01 L276,395.23 L277,394.47 L278,393.72 L279,392.98 L280,392.26 L281,391.56 L282,390.88 L283,390.21 L284,389.56 L285,388.94 L286,388.34 L287,387.76 L288,387.20 L289,386.67 L290,386.16 L291,385.68 L292,385.22 L293,384.78 L294,384.37 L295,383.98 L296,383.61 L297,383.27 L298,382.95 L299,382.65 L300,382.38 L301,382.12 L302,381.89 L303,381.67 L304,381.47 L305,381.29 L306,381.13 L307,380.98 L308,380.85 L309,380.74 L310,380.63 L311,380.55 L312,380.47 L313,380.41 L314,380.36 L315,380.32 L316,380.29 L317,380.27 L318,380.27 L319,380.27 L320,380.28 L321,380.30 L322,380.33 L323,380.37 L324,380.42 L325,380.48 L326,380.55 L327,380.63 L328,380.72 L329,380.82 L330,380.92 L331,381.04 L332,381.16 L333,381.30 L334,381.44 L335,381.60 L336,381.76 L337,381.94 L338,382.13 L339,382.32 L340,382.53 L341,382.74 L342,382.97 L343,383.21 L344,383.45 L345,383.71 L346,383.98 L347,384.25 L348,384.54 L349,384.83 L350,385.14 L351,385.45 L352,385.78 L353,386.11 L354,386.45 L355,386.80 L356,387.15 L357,387.52 L358,387.89 L359,388.27 L360,388.65 L361,389.04 L362,389.44 L363,389.85 L364,390.25 L365,390.67 L366,391.09 L367,391.51 L368,391.94 L369,392.37 L370,392.81 L371,393.25 L372,393.69 L373,394.13 L374,394.58 L375,395.03 L376,395.48 L377,395.93 L378,396.39 L379,396.84 L380,397.30 L381,397.75 L382,398.21 L383,398.67 L384,399.12 L385,399.58 L386,400.04 L387,400.49 L388,400.95 L389,401.40 L390,401.85 L391,402.30 L392,402.75 L393,403.20 L394,403.65 L395,404.09 L396,404.53 L397,404.97 L398,405.41 L399,405.85 L400,406.28 L401,406.71 L402,407.14 L403,407.56 L404,407.99 L405,408.41 L406,408.82 L407,409.24 L408,409.65 L409,410.06 L410,410.46 L411,410.86 L412,411.26 L413,411.66 L414,412.05 L415,412.44 L416,412.83 L417,413.22 L418,413.60 L419,413.97 L420,414.35 L421,414.72 L422,415.09 L423,415.45 L424,415.82 L425,416.17 L426,416.53 L427,416.88 L428,417.23 L429,417.58 L430,417.92 L431,418.26 L432,418.60 L433,418.93 L434,419.27 L435,419.59 L436,419.92 L437,420.24 L438,420.56 L439,420.87 L440,421.19 L441,421.50 L442,421.80 L443,422.11 L444,422.41 L445,422.70 L446,423.00 L447,423.29 L448,423.58 L449,423.86 L450,424.15 L451,424.43 L452,424.70 L453,424.98 L454,425.25 L455,425.51 L456,425.78 L457,426.04 L458,426.30 L459,426.55 L460,426.81 L461,427.06 L462,427.30 L463,427.55 L464,427.79 L465,428.03 L466,428.26 L467,428.49 L468,428.72 L469,428.95 L470,429.17 L471,429.39 L472,429.61 L473,429.82 L474,430.03 L475,430.24 L476,430.45 L477,430.65 L478,430.85 L479,431.05 L480,431.24 L481,431.43 L482,431.62 L483,431.81 L484,431.99 L485,432.17 L486,432.35 L487,432.52 L488,432.69 L489,432.86 L490,433.03 L491,433.19 L492,433.35 L493,433.51 L494,433.66 L495,433.82 L496,433.96 L497,434.11 L498,434.26 L499,434.40 L500,434.54 L501,434.67 L502,434.81 L503,434.94 L504,435.07 L505,435.20 L506,435.32 L507,435.44 L508,435.56 L509,435.68 L510,435.79 L511,435.90 L512,436.01 L513,436.12 L514,436.23 L515,436.33 L516,436.43 L517,436.53 L518,436.63 L519,436.72 L520,436.81 L521,436.90 L522,436.99 L523,437.08 L524,437.16 L525,437.25 L526,437.33 L527,437.41 L528,437.48 L529,437.56 L530,437.63 L531,437.70 L532,437.77 L533,437.84 L534,437.91 L535,437.97 L536,438.03 L537,438.10 L538,438.16 L539,438.21 L540,438.27 L541,438.33 L542,438.38 L543,438.43 L544,438.48 L545,438.53 L546,438.58 L547,438.63 L548,438.67 L549,438.72 L550,438.76 L551,438.80 L552,438.85 L553,438.89 L554,438.92 L555,438.96 L556,439.00 L557,439.03 L558,439.07 L559,439.10 L560,439.13 L561,439.16 L562,439.19 L563,439.22 L564,439.25 L565,439.28 L566,439.31 L567,439.33 L568,439.36 L569,439.38 L570,439.41 L571,439.43 L572,439.45 L573,439.47 L574,439.49 L575,439.51 L576,439.53 L577,439.55 L578,439.57 L579,439.59 L580,439.60 L581,439.62 L582,439.64 L583,439.65 L584,439.67 L585,439.68 L586,439.70 L587,439.71 L588,439.72 L589,439.73 L590,439.75 L591,439.76 L592,439.77 L593,439.78 L594,439.79 L595,439.80 L596,439.81 L597,439.82 L598,439.83 L599,439.84 L600,439.84 L601,439.85 L602,439.86 L603,439.87 L604,439.87 L605,439.88 L606,439.89 L607,439.89 L608,439.90 L609,439.91 L610,439.91 L611,439.92 L612,439.92 L613,439.93 L614,439.93 L615,439.94 L616,439.94 L617,439.94 L618,439.95 L619,439.95 L620,439.96 L621,439.96 L622,439.96 L623,439.97 L624,439.97 L625,439.97 L626,439.98 L627,439.98 L628,439.98 L629,439.98 L630,439.99 L631,439.99 L632,439.99 L633,439.99 L634,439.99 L635,440.00 L636,440.00 L637,440.00 L638,440.00 L639,440.00 L640,440.00 L641,440.01 L642,440.01 L643,440.01 L644,440.01 L645,440.01 L646,440.01 L647,440.01 L648,440.01 L649,440.02 L650,440.02 L651,440.02 L652,440.02 L653,440.02 L654,440.02 L655,440.02 L656,440.02 L657,440.02 L658,440.02 L659,440.02 L660,440.02 L661,440.02 L662,440.02 L663,440.02 L664,440.03 L665,440.03 L666,440.03 L667,440.03 L668,440.03 L669,440.03 L670,440.03 L671,440.03 L672,440.03 L673,440.03 L674,440.03 L675,440.03 L676,440.03 L677,440.03 L678,440.03 L679,440.03 L680,440.03 L681,440.03 L682,440.03 L683,440.03 L684,440.03 L685,440.03 L686,440.03 L687,440.03 L688,440.03 L689,440.03 L690,440.03 L691,440.03 L692,440.03 L693,440.03 L694,440.03 L695,440.03 L696,440.03 L697,440.03 L698,440.03 L699,440.03 L700,440.03 L701,440.03 L702,440.03 L703,440.03 L704,440.03 L705,440.03 L706,440.03 L707,440.03 L708,440.03 L709,440.03 L710,440.03 L711,440.03 L712,440.03 L713,440.03 L714,440.03 L715,440.03 L716,440.03 L717,440.03 L718,440.03 L719,440.03 L720,440.03 L721,440.03 L722,440.03 L723,440.03 L724,440.03 L725,440.03 L726,440.03 L727,440.03 L728,440.03 L729,440.03" fill="none" stroke="#FF0000" stroke-width="3.6" stroke-linejoin="round"/>
<path d="M56,530.17 L57,530.17 L58,530.17 L59,530.17 L60,530.17 L61,530.16 L62,530.16 L63,530.16 L64,530.16 L65,530.16 L66,530.16 L67,530.16 L68,530.16 L69,530.15 L70,530.15 L71,530.15 L72,530.15 L73,530.15 L74,530.15 L75,530.14 L76,530.14 L77,530.14 L78,530.14 L79,530.13 L80,530.13 L81,530.13 L82,530.13 L83,530.12 L84,530.12 L85,530.12 L86,530.11 L87,530.11 L88,530.11 L89,530.10 L90,530.10 L91,530.10 L92,530.09 L93,530.09 L94,530.08 L95,530.08 L96,530.07 L97,530.07 L98,530.06 L99,530.06 L100,530.05 L101,530.05 L102,530.04 L103,530.03 L104,530.03 L105,530.02 L106,530.01 L107,530.01 L108,530.00 L109,529.99 L110,529.98 L111,529.97 L112,529.96 L113,529.95 L114,529.94 L115,529.93 L116,529.92 L117,529.91 L118,529.90 L119,529.89 L120,529.87 L121,529.86 L122,529.85 L123,529.83 L124,529.82 L125,529.80 L126,529.79 L127,529.77 L128,529.75 L129,529.73 L130,529.72 L131,529.70 L132,529.68 L133,529.66 L134,529.63 L135,529.61 L136,529.59 L137,529.56 L138,529.54 L139,529.51 L140,529.49 L141,529.46 L142,529.43 L143,529.40 L144,529.37 L145,529.33 L146,529.30 L147,529.27 L148,529.23 L149,529.19 L150,529.15 L151,529.11 L152,529.07 L153,529.03 L154,528.98 L155,528.94 L156,528.89 L157,528.84 L158,528.78 L159,528.73 L160,528.67 L161,528.62 L162,528.55 L163,528.49 L164,528.43 L165,528.36 L166,528.29 L167,528.22 L168,528.14 L169,528.06 L170,527.98 L171,527.90 L172,527.81 L173,527.72 L174,527.63 L175,527.53 L176,527.43 L177,527.32 L178,527.21 L179,527.10 L180,526.98 L181,526.86 L182,526.74 L183,526.60 L184,526.47 L185,526.33 L186,526.18 L187,526.03 L188,525.87 L189,525.71 L190,525.54 L191,525.37 L192,525.19 L193,525.00 L194,524.80 L195,524.60 L196,524.39 L197,524.18 L198,523.95 L199,523.72 L200,523.48 L201,523.23 L202,522.97 L203,522.70 L204,522.43 L205,522.14 L206,521.85 L207,521.54 L208,521.23 L209,520.90 L210,520.57 L211,520.22 L212,519.86 L213,519.49 L214,519.11 L215,518.72 L216,518.32 L217,517.91 L218,517.48 L219,517.04 L220,516.59 L221,516.12 L222,515.65 L223,515.16 L224,514.66 L225,514.15 L226,513.62 L227,513.08 L228,512.53 L229,511.97 L230,511.39 L231,510.80 L232,510.20 L233,509.59 L234,508.97 L235,508.34 L236,507.69 L237,507.03 L238,506.37 L239,505.69 L240,505.00 L241,504.31 L242,503.60 L243,502.89 L244,502.17 L245,501.44 L246,500.71 L247,499.97 L248,499.22 L249,498.47 L250,497.71 L251,496.95 L252,496.19 L253,495.43 L254,494.66 L255,493.89 L256,493.13 L257,492.36 L258,491.60 L259,490.84 L260,490.08 L261,489.33 L262,488.58 L263,487.84 L264,487.11 L265,486.38 L266,485.66 L267,484.95 L268,484.25 L269,483.56 L270,482.89 L271,482.22 L272,481.57 L273,480.93 L274,480.31 L275,479.70 L276,479.11 L277,478.53 L278,477.97 L279,477.43 L280,476.91 L281,476.40 L282,475.91 L283,475.45 L284,475.00 L285,474.57 L286,474.16 L287,473.77 L288,473.40 L289,473.06 L290,472.73 L291,472.42 L292,472.13 L293,471.87 L294,471.62 L295,471.40 L296,471.20 L297,471.01 L298,470.85 L299,470.71 L300,470.58 L301,470.48 L302,470.39 L303,470.32 L304,470.27 L305,470.24 L306,470.23 L307,470.23 L308,470.25 L309,470.28 L310,470.33 L311,470.40 L312,470.48 L313,470.58 L314,470.69 L315,470.81 L316,470.95 L317,471.09 L318,471.25 L319,471.43 L320,471.61 L321,471.80 L322,472.01 L323,472.22 L324,472.44 L325,472.67 L326,472.91 L327,473.16 L328,473.42 L329,473.68 L330,473.95 L331,474.22 L332,474.51 L333,474.80 L334,475.09 L335,475.39 L336,475.70 L337,476.01 L338,476.33 L339,476.65 L340,476.97 L341,477.30 L342,477.63 L343,477.97 L344,478.31 L345,478.66 L346,479.01 L347,479.36 L348,479.71 L349,480.07 L350,480.43 L351,480.80 L352,481.17 L353,481.54 L354,481.91 L355,482.29 L356,482.67 L357,483.05 L358,483.43 L359,483.82 L360,484.21 L361,484.60 L362,485.00 L363,485.40 L364,485.80 L365,486.20 L366,486.60 L367,487.01 L368,487.42 L369,487.83 L370,488.24 L371,488.65 L372,489.07 L373,489.48 L374,489.90 L375,490.32 L376,490.75 L377,491.17 L378,491.59 L379,492.02 L380,492.45 L381,492.87 L382,493.30 L383,493.73 L384,494.16 L385,494.59 L386,495.02 L387,495.45 L388,495.88 L389,496.31 L390,496.74 L391,497.17 L392,497.60 L393,498.03 L394,498.46 L395,498.88 L396,499.31 L397,499.73 L398,500.16 L399,500.58 L400,501.00 L401,501.42 L402,501.84 L403,502.25 L404,502.67 L405,503.08 L406,503.49 L407,503.90 L408,504.30 L409,504.71 L410,505.10 L411,505.50 L412,505.90 L413,506.29 L414,506.68 L415,507.06 L416,507.44 L417,507.82 L418,508.20 L419,508.57 L420,508.94 L421,509.31 L422,509.67 L423,510.03 L424,510.38 L425,510.73 L426,511.08 L427,511.42 L428,511.76 L429,512.10 L430,512.43 L431,512.76 L432,513.08 L433,513.40 L434,513.72 L435,514.03 L436,514.34 L437,514.64 L438,514.94 L439,515.24 L440,515.53 L441,515.82 L442,516.10 L443,516.38 L444,516.66 L445,516.93 L446,517.20 L447,517.46 L448,517.72 L449,517.98 L450,518.23 L451,518.48 L452,518.72 L453,518.96 L454,519.20 L455,519.43 L456,519.66 L457,519.88 L458,520.11 L459,520.32 L460,520.54 L461,520.75 L462,520.95 L463,521.16 L464,521.36 L465,521.55 L466,521.74 L467,521.93 L468,522.12 L469,522.30 L470,522.48 L471,522.66 L472,522.83 L473,523.00 L474,523.16 L475,523.33 L476,523.49 L477,523.64 L478,523.80 L479,523.95 L480,524.10 L481,524.24 L482,524.38 L483,524.52 L484,524.66 L485,524.80 L486,524.93 L487,525.06 L488,525.18 L489,525.31 L490,525.43 L491,525.55 L492,525.66 L493,525.78 L494,525.89 L495,526.00 L496,526.10 L497,526.21 L498,526.31 L499,526.41 L500,526.51 L501,526.60 L502,526.70 L503,526.79 L504,526.88 L505,526.97 L506,527.05 L507,527.14 L508,527.22 L509,527.30 L510,527.38 L511,527.46 L512,527.53 L513,527.61 L514,527.68 L515,527.75 L516,527.82 L517,527.88 L518,527.95 L519,528.01 L520,528.07 L521,528.13 L522,528.19 L523,528.25 L524,528.31 L525,528.36 L526,528.42 L527,528.47 L528,528.52 L529,528.57 L530,528.62 L531,528.67 L532,528.71 L533,528.76 L534,528.80 L535,528.84 L536,528.89 L537,528.93 L538,528.97 L539,529.00 L540,529.04 L541,529.08 L542,529.11 L543,529.15 L544,529.18 L545,529.21 L546,529.25 L547,529.28 L548,529.31 L549,529.34 L550,529.37 L551,529.39 L552,529.42 L553,529.45 L554,529.47 L555,529.50 L556,529.52 L557,529.54 L558,529.57 L559,529.59 L560,529.61 L561,529.63 L562,529.65 L563,529.67 L564,529.69 L565,529.71 L566,529.73 L567,529.74 L568,529.76 L569,529.78 L570,529.79 L571,529.81 L572,529.82 L573,529.84 L574,529.85 L575,529.86 L576,529.88 L577,529.89 L578,529.90 L579,529.91 L580,529.92 L581,529.94 L582,529.95 L583,529.96 L584,529.97 L585,529.98 L586,529.99 L587,530.00 L588,530.00 L589,530.01 L590,530.02 L591,530.03 L592,530.04 L593,530.04 L594,530.05 L595,530.06 L596,530.06 L597,530.07 L598,530.08 L599,530.08 L600,530.09 L601,530.09 L602,530.10 L603,530.10 L604,530.11 L605,530.11 L606,530.12 L607,530.12 L608,530.13 L609,530.13 L610,530.14 L611,530.14 L612,530.14 L613,530.15 L614,530.15 L615,530.15 L616,530.16 L617,530.16 L618,530.16 L619,530.17 L620,530.17 L621,530.17 L622,530.17 L623,530.18 L624,530.18 L625,530.18 L626,530.18 L627,530.18 L628,530.19 L629,530.19 L630,530.19 L631,530.19 L632,530.19 L633,530.20 L634,530.20 L635,530.20 L636,530.20 L637,530.20 L638,530.20 L639,530.20 L640,530.21 L641,530.21 L642,530.21 L643,530.21 L644,530.21 L645,530.21 L646,530.21 L647,530.21 L648,530.21 L649,530.21 L650,530.22 L651,530.22 L652,530.22 L653,530.22 L654,530.22 L655,530.22 L656,530.22 L657,530.22 L658,530.22 L659,530.22 L660,530.22 L661,530.22 L662,530.22 L663,530.22 L664,530.22 L665,530.22 L666,530.22 L667,530.22 L668,530.23 L669,530.23 L670,530.23 L671,530.23 L672,530.23 L673,530.23 L674,530.23 L675,530.23 L676,530.23 L677,530.23 L678,530.23 L679,530.23 L680,530.23 L681,530.23 L682,530.23 L683,530.23 L684,530.23 L685,530.23 L686,530.23 L687,530.23 L688,530.23 L689,530.23 L690,530.23 L691,530.23 L692,530.23 L693,530.23 L694,530.23 L695,530.23 L696,530.23 L697,530.23 L698,530.23 L699,530.23 L700,530.23 L701,530.23 L702,530.23 L703,530.23 L704,530.23 L705,530.23 L706,530.23 L707,530.23 L708,530.23 L709,530.23 L710,530.23 L711,530.23 L712,530.23 L713,530.23 L714,530.23 L715,530.23 L716,530.23 L717,530.23 L718,530.23 L719,530.23 L720,530.23 L721,530.23 L722,530.23 L723,530.24 L724,530.24 L725,530.24 L726,530.24 L727,530.24 L728,530.24 L729,530.24" fill="none" stroke="#000000" stroke-width="3.6" stroke-linejoin="round"/>
<line x1="451.3" y1="25.5" x2="512.2" y2="25.5" stroke="#FF7000" stroke-width="3.4" stroke-linecap="round"/>
<text x="517" y="32" class="lg" letter-spacing="0.12">n-Octanoic acid (0.4)</text>
<line x1="451.3" y1="116.3" x2="512.2" y2="116.3" stroke="#000070" stroke-width="3.4" stroke-linecap="round"/>
<text x="517" y="122.5" class="lg" letter-spacing="0.12">n-Octanoic acid (0.2)</text>
<line x1="451.3" y1="204.9" x2="512.2" y2="204.9" stroke="#787400" stroke-width="3.4" stroke-linecap="round"/>
<text x="517" y="211.2" class="lg">n-Octylamine</text>
<line x1="451.3" y1="296.4" x2="512.2" y2="296.4" stroke="#0000F0" stroke-width="3.4" stroke-linecap="round"/>
<text x="517.5" y="304" class="lg">TOP</text>
<line x1="451.3" y1="387.4" x2="512.2" y2="387.4" stroke="#FF0000" stroke-width="3.4" stroke-linecap="round"/>
<text x="517.2" y="394.6" class="lg">HPA</text>
<line x1="457" y1="478.9" x2="517" y2="478.9" stroke="#000000" stroke-width="3.4" stroke-linecap="round"/>
<text x="521.8" y="487.4" class="lg">TDPA</text>
<rect x="55.9" y="4.2" width="672.9" height="541.4" fill="none" stroke="#000" stroke-width="3.4"/>
<circle cx="55.9" cy="4.2" r="2.9" fill="#000"/>
<circle cx="55.4" cy="545.6" r="2.3" fill="#000"/>
<line x1="55.90" y1="545.6" x2="55.90" y2="558.2" stroke="#000" stroke-width="3.4"/>
<line x1="280.20" y1="545.6" x2="280.20" y2="558.2" stroke="#000" stroke-width="3.4"/>
<line x1="504.50" y1="545.6" x2="504.50" y2="558.2" stroke="#000" stroke-width="3.4"/>
<line x1="728.80" y1="545.6" x2="728.80" y2="558.2" stroke="#000" stroke-width="3.4"/>
<line x1="168.05" y1="545.6" x2="168.05" y2="552" stroke="#000" stroke-width="3.4"/>
<line x1="392.35" y1="545.6" x2="392.35" y2="552" stroke="#000" stroke-width="3.4"/>
<line x1="616.65" y1="545.6" x2="616.65" y2="552" stroke="#000" stroke-width="3.4"/>
<text x="52.8" y="591.5" class="tk" text-anchor="middle">550</text>
<text x="278.4" y="591.5" class="tk" text-anchor="middle">600</text>
<text x="502.6" y="591.5" class="tk" text-anchor="middle">650</text>
<text x="727.2" y="591.5" class="tk" text-anchor="middle">700</text>
<text x="393" y="633" class="ax" text-anchor="middle" word-spacing="2.5">Wavelength (nm)</text>
<text transform="translate(28.4,279.4) rotate(-90)" class="ax" text-anchor="middle" letter-spacing="0.17">PL Intensity (a.u.)</text>
</svg>
</body></html>
